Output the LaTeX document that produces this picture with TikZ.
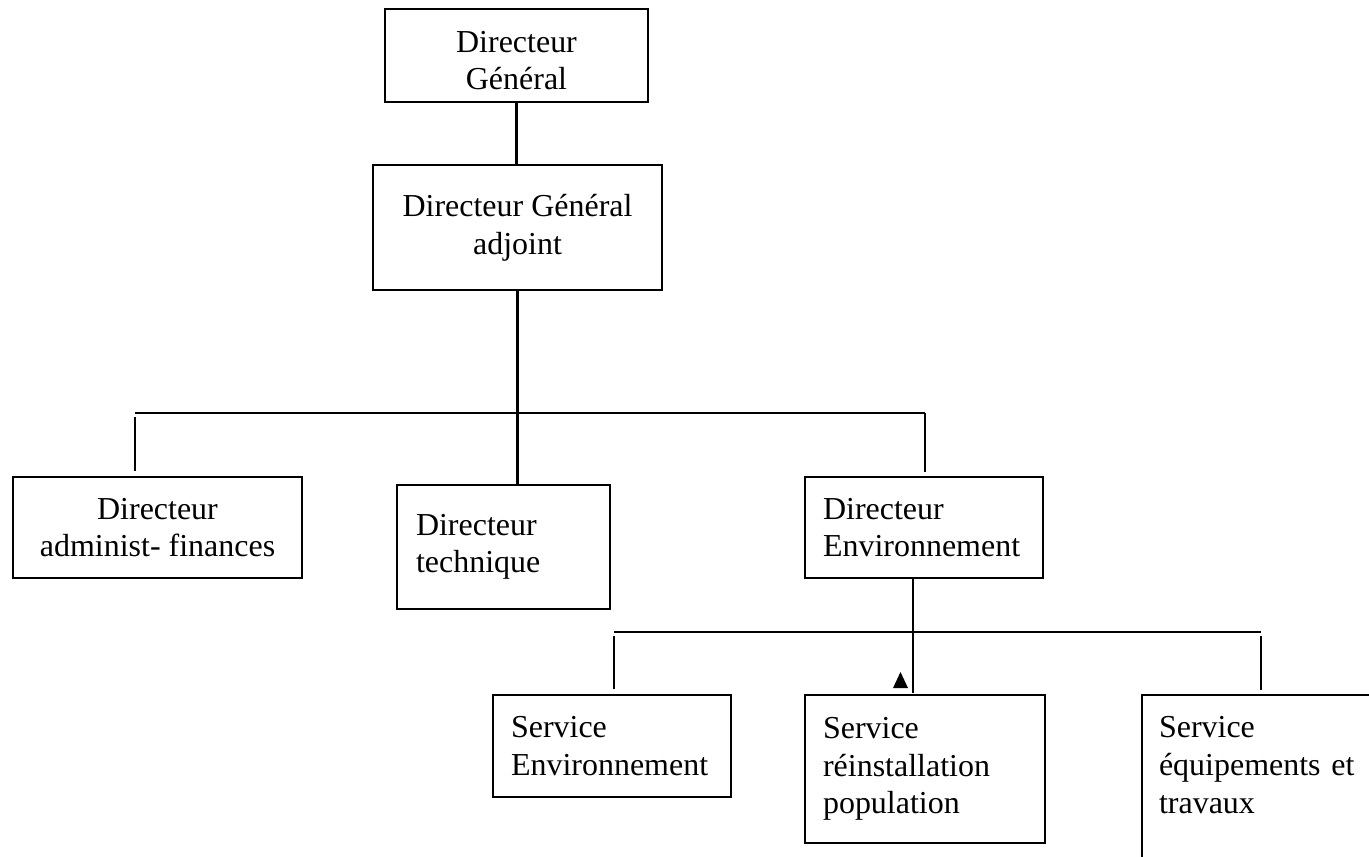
\documentclass[tikz,border=0pt]{standalone}
\usepackage{fontspec}
\setmainfont{Liberation Serif}
\usetikzlibrary{positioning}

\begin{document}
\begin{tikzpicture}[
  x=0.02cm, y=-0.02cm,
  font=\fontsize{18.2}{21.4}\selectfont,
  orgbox/.style={draw, rectangle, line width=1.4pt, inner sep=0pt},
  centred/.style={align=center},
  leftpad/.style={align=left, text width=#1},
  link/.style={line width=1.4pt},
]

% Frame of the page (pixel units, y going down)
\useasboundingbox (0,0) rectangle (1369,856);

% ── Direction ───────────────────────────────────────────────────────────
\node[orgbox, centred, minimum width=5.26cm, minimum height=1.86cm]
  (dg) at (516.5,55.5) {\\[-0.12cm]Directeur\\Général};
\node[orgbox, centred, minimum width=5.78cm, minimum height=2.5cm]
  (dga) at (517.5,227.5) {Directeur Général\\adjoint};

% ── Directeurs ──────────────────────────────────────────────────────────
\node[orgbox, centred, minimum width=5.78cm, minimum height=2.02cm]
  (daf) at (157.5,527.5) {Directeur\\administ- finances};
\node[orgbox, leftpad=3.5cm, minimum width=4.26cm, minimum height=2.48cm]
  (dt) at (503.5,547) {Directeur\\technique\\[0.4cm]};
\node[orgbox, leftpad=4.04cm, minimum width=4.76cm, minimum height=2.02cm]
  (de) at (924,527.5) {Directeur\\Environnement};

% ── Services of the environment direction ───────────────────────────────
\node[orgbox, leftpad=4.04cm, minimum width=4.76cm, minimum height=2.04cm]
  (se) at (612,746) {Service\\Environnement};
\node[orgbox, leftpad=4.08cm, minimum width=4.8cm, minimum height=2.96cm]
  (sr) at (925,769) {Service\\réinstallation\\population};
% last box runs off the page: only its top and left sides are seen
\node[orgbox, draw=none, leftpad=4.08cm, minimum width=4.8cm, minimum height=2.96cm]
  (sq) at (1261,765) {Service\\équipements et\\travaux};
\draw[link] (sq.north east) ++(0,5) -- ++(-240,0) -- ++(0,200);

% ── Connectors ──────────────────────────────────────────────────────────
\draw[link] (dg.south) -- (dg.south |- dga.north);
\draw[link] (dga.south) -- (dga.south |- dt.north);

\coordinate (topL) at (135,413);
\coordinate (topR) at (925,413);
\draw[link] (topL) -- (topR);
\draw[link, shorten >=0.1cm] ([yshift=-0.08cm]topL) -- (topL |- daf.north);
\draw[link, shorten >=0.08cm] (topR) -- (topR |- de.north);

\coordinate (lowL) at (614,632);
\coordinate (lowR) at (1261,632);
\coordinate (drop) at (913,693);
\draw[link] (lowL) -- (lowR);
\draw[link, shorten >=0.1cm] ([yshift=-0.08cm]lowL) -- (lowL |- se.north);
\draw[link] ([yshift=-0.08cm]lowR) -- (lowR |- sq.north);
\draw[link] (drop |- de.south) -- (drop);

% small black triangle beside the drop line
\fill (893,688) -- (908,688) -- (900.5,672) -- cycle;

\end{tikzpicture}
\end{document}
